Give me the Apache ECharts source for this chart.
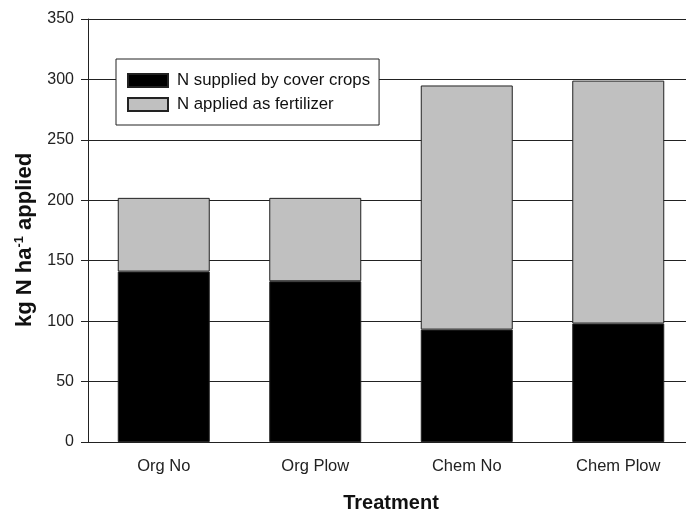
<!DOCTYPE html>
<html><head><meta charset="utf-8">
<script src="https://cdn.jsdelivr.net/npm/echarts@6/dist/echarts.min.js"></script>
<style>html,body{margin:0;padding:0;background:#fff;width:686px;height:518px;overflow:hidden}#c{width:700px;height:518px}</style>
</head><body><div id="c"></div>
<script>
const categories = ['Org No', 'Org Plow', 'Chem No', 'Chem Plow'];
const coverCrops = [141, 133, 93, 98];
const fertilizer = [61, 69, 202, 201];
const yTicks = [0, 50, 100, 150, 200, 250, 300, 350];

const chart = echarts.init(document.getElementById('c'));
const font = '"Liberation Sans", Arial, sans-serif';
chart.setOption({
  animation: false,
  grid: { left: 88, top: 19, width: 606, height: 428, containLabel: false },
  legend: {
    orient: 'vertical', left: 116, top: 59, icon: 'rect',
    backgroundColor: '#fff', borderColor: '#222', borderWidth: 1,
    padding: [13, 9, 12, 11], itemGap: 7, itemWidth: 40, itemHeight: 13,
    textStyle: { fontFamily: font, fontSize: 16.8, color: '#111', padding: [0, 0, 0, 4] },
    data: ['N supplied by cover crops', 'N applied as fertilizer']
  },
  xAxis: {
    type: 'category', data: categories,
    name: 'Treatment', nameLocation: 'middle', nameGap: 51,
    nameTextStyle: { fontFamily: font, fontSize: 20, fontWeight: 'bold', color: '#111' },
    axisLine: { lineStyle: { color: '#222', width: 1 } },
    axisTick: { alignWithLabel: true, length: 6, lineStyle: { color: '#222' } },
    axisLabel: { fontFamily: font, fontSize: 16.5, color: '#222', margin: 16 }
  },
  yAxis: {
    type: 'value', min: yTicks[0], max: yTicks[yTicks.length - 1], interval: 50,
    name: 'kg N ha{sup|-1} applied', nameLocation: 'middle', nameGap: 52, nameRotate: 90,
    nameTextStyle: { fontFamily: font, fontSize: 22, fontWeight: 'bold', color: '#111', padding: [0, 19, 0, 0],
      rich: { sup: { fontFamily: font, fontSize: 13, fontWeight: 'bold', color: '#111', verticalAlign: 'top', padding: [0, 0, 10, 0] } } },
    axisLine: { show: true, lineStyle: { color: '#222', width: 1 } },
    axisTick: { show: true, length: 7, lineStyle: { color: '#222' } },
    axisLabel: { fontFamily: font, fontSize: 16, color: '#222', margin: 14 },
    splitLine: { show: true, lineStyle: { color: '#222', width: 1 } }
  },
  series: [
    { name: 'N supplied by cover crops', type: 'bar', stack: 'n', data: coverCrops, barWidth: 92,
      itemStyle: { color: '#000', borderColor: '#222', borderWidth: 1 } },
    { name: 'N applied as fertilizer', type: 'bar', stack: 'n', data: fertilizer, barWidth: 92,
      itemStyle: { color: '#c0c0c0', borderColor: '#222', borderWidth: 1 } }
  ]
});
</script></body></html>
